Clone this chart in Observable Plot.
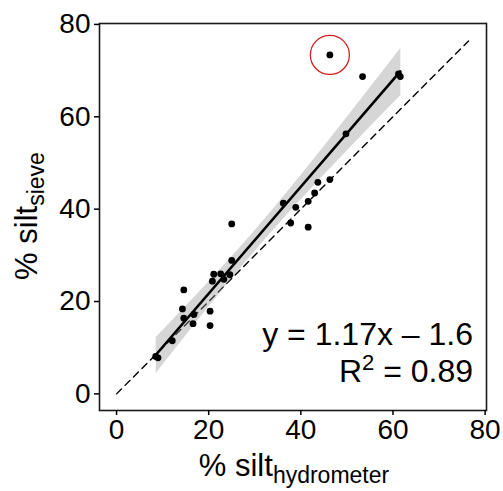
<!DOCTYPE html>
<html><head><meta charset="utf-8">
<script src="https://cdn.jsdelivr.net/npm/d3@7"></script>
<script src="https://cdn.jsdelivr.net/npm/@observablehq/plot@0.6"></script>
<style>body{margin:0;background:#fff}</style>
</head><body><div id="chart"></div>
<script>
// % silt by hydrometer (x) and by sieve (y)
const hydrometer = [8.5, 9.0, 12.1, 14.6, 14.3, 14.6, 16.8, 16.6, 20.3, 20.3, 20.8, 21.1, 22.6, 23.3, 24.6, 25.0, 25.0, 36.2, 37.8, 38.9, 41.6, 41.6, 43.0, 43.7, 46.3, 49.8, 53.4, 61.2, 61.6];
const sieve      = [8.1, 7.8, 11.5, 22.5, 18.4, 16.4, 17.2, 15.2, 17.9, 14.8, 24.4, 25.9, 26.0, 24.8, 25.8, 28.9, 36.8, 41.3, 37.0, 40.4, 41.7, 36.1, 43.5, 45.8, 46.4, 56.3, 68.7, 69.3, 68.7];
// circled outlier
const outlierX = [46.3];
const outlierY = [73.4];
const xTicks = [0, 20, 40, 60, 80];
const yTicks = [0, 20, 40, 60, 80];
const oneToOne = [0, 76.4];
const eqLine1 = "y = 1.17x \u2013 1.6";
const r2Value = "0.89";
const xTitle = ["% silt", "hydrometer"];
const yTitle = ["% silt", "sieve"];

const data = hydrometer.map((x, i) => ({x, y: sieve[i]}));
const outlier = outlierX.map((x, i) => ({x, y: outlierY[i]}));
const all = data.concat(outlier);
const diag = oneToOne.map(v => ({x: v, y: v}));

const FONT = "'Liberation Sans', Arial, sans-serif";
const chart = Plot.plot({
  width: 503, height: 491,
  marginLeft: 99, marginRight: 17, marginTop: 23, marginBottom: 81,
  style: {fontFamily: FONT, fontSize: "28px", color: "black", background: "white"},
  x: {domain: [-3.7, 80.3], label: null},
  y: {domain: [-3.6, 80.2], label: null},
  marks: [
    Plot.line(diag, {x: "x", y: "y", stroke: "black", strokeWidth: 1.4, strokeDasharray: "7,5"}),
    Plot.linearRegressionY(all, {x: "x", y: "y", stroke: "black", strokeWidth: 2.6, fill: "#999999", fillOpacity: 0.4}),
    Plot.dot(all, {x: "x", y: "y", r: 3.4, fill: "black"}),
    Plot.dot(outlier, {x: "x", y: "y", r: 19.5, stroke: "#d11f1f", strokeWidth: 1.3, fill: "none"}),
    Plot.frame({stroke: "#1a1a1a", strokeWidth: 1.6}),
    Plot.axisX(xTicks, {tickSize: 5, tickPadding: 4, strokeWidth: 1.5, label: null}),
    Plot.axisY(yTicks, {tickSize: 5, tickPadding: 4, strokeWidth: 1.5, label: null})
  ]
});
document.getElementById("chart").appendChild(chart);

const svg = d3.select(chart);
// x title
const xt = svg.append("text").attr("x", 294).attr("y", 476).attr("text-anchor", "middle")
  .attr("font-family", FONT).attr("font-size", 31).attr("fill", "black");
xt.append("tspan").text(xTitle[0]);
xt.append("tspan").attr("font-size", 23).attr("dy", 7).text(xTitle[1]);
// y title
const yt = svg.append("text").attr("transform", "translate(37,216) rotate(-90)").attr("text-anchor", "middle")
  .attr("font-family", FONT).attr("font-size", 31).attr("fill", "black");
yt.append("tspan").text(yTitle[0]);
yt.append("tspan").attr("font-size", 23).attr("dy", 7).text(yTitle[1]);
// equation annotation
svg.append("text").attr("x", 473).attr("y", 345).attr("text-anchor", "end")
  .attr("font-family", FONT).attr("font-size", 32).attr("fill", "black").text(eqLine1);
const r2 = svg.append("text").attr("x", 473).attr("y", 382).attr("text-anchor", "end")
  .attr("font-family", FONT).attr("font-size", 32).attr("fill", "black");
r2.append("tspan").text("R");
r2.append("tspan").attr("font-size", 22).attr("dy", -12).text("2");
r2.append("tspan").attr("dy", 12).text(" = " + r2Value);
</script>
</body></html>
